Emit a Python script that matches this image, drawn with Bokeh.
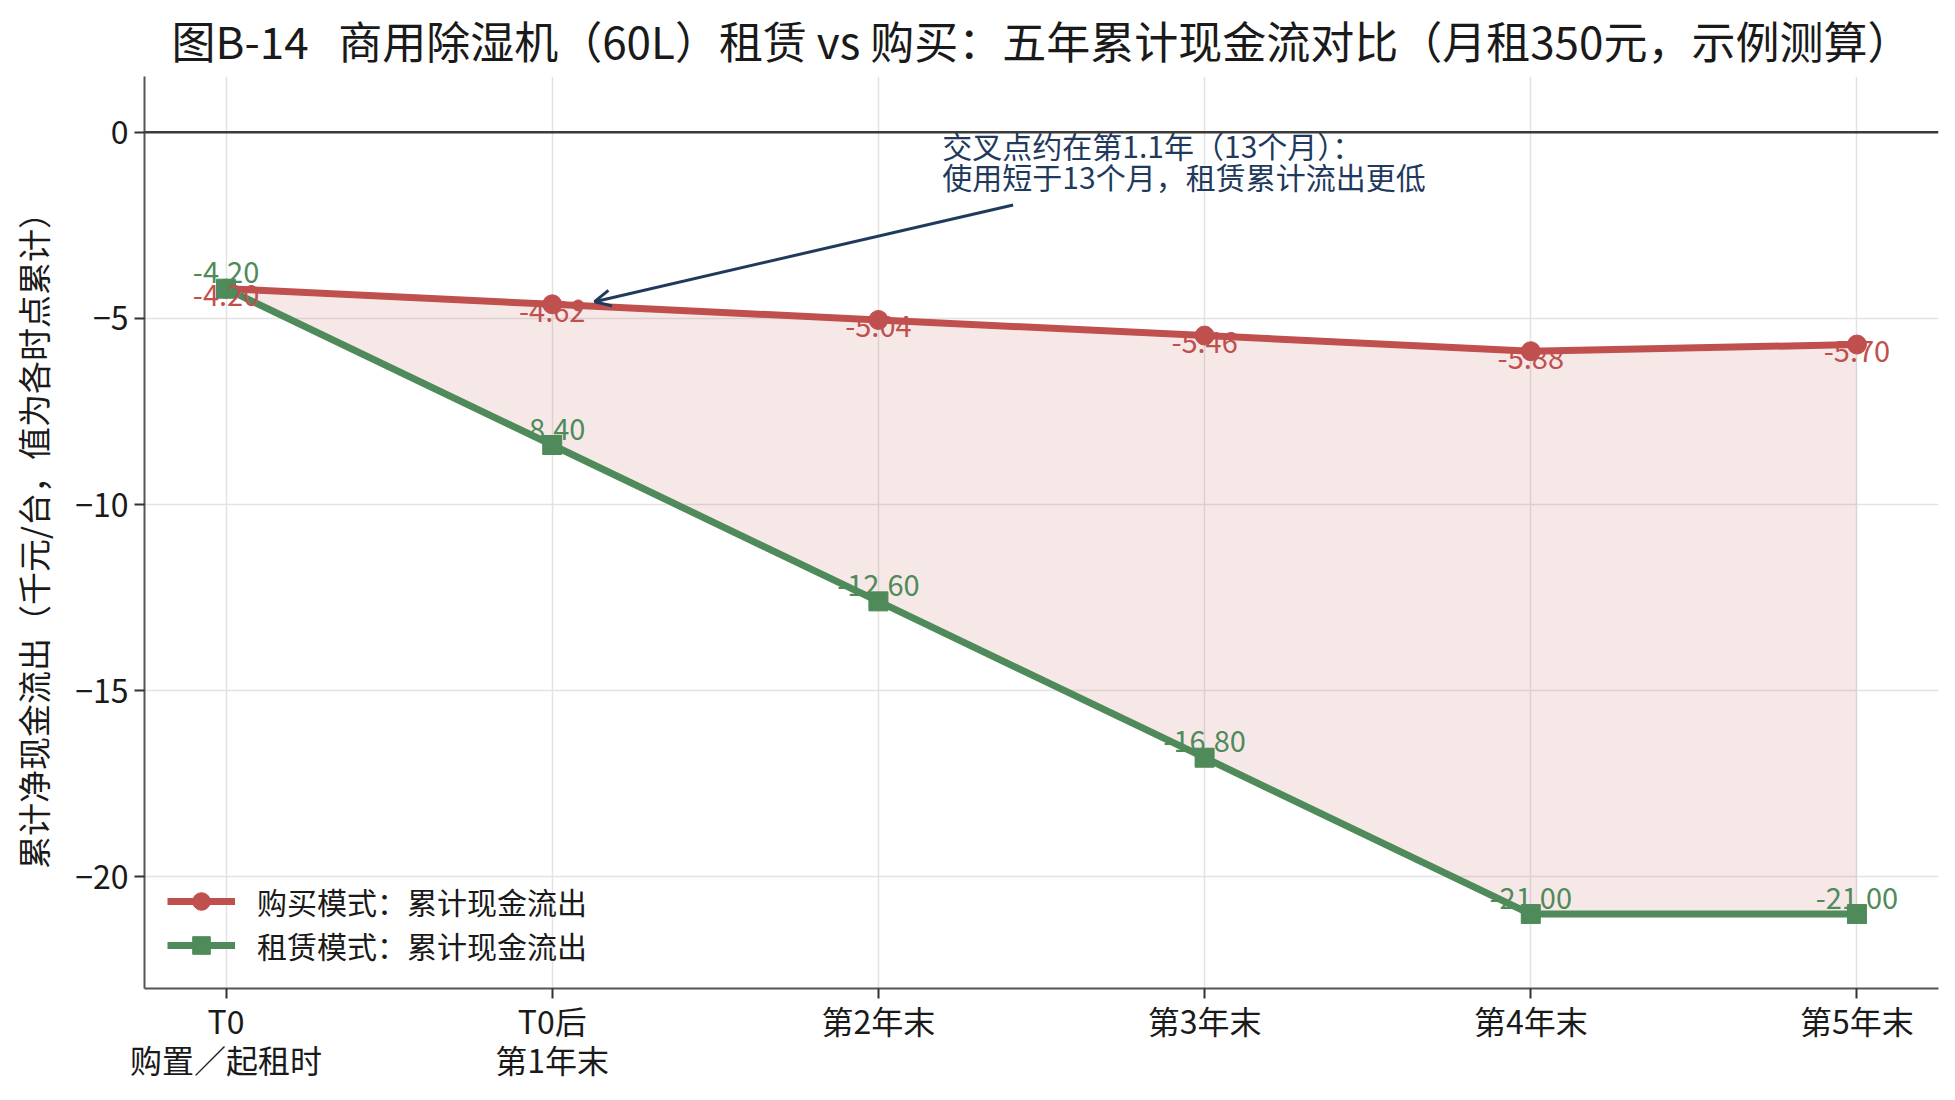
from bokeh.plotting import figure
from bokeh.models import ColumnDataSource, Span, Arrow, OpenHead, Label, Legend, LegendItem, FixedTicker
from bokeh.core.properties import value
from bokeh.embed import file_html
from bokeh.resources import INLINE

FONT = "Noto Sans CJK SC"

# data (千元/台, cumulative cash outflow)
stage_pos = [0, 1, 2, 3, 4, 5]
stage_labels = ["T0\n购置／起租时", "T0后\n第1年末", "第2年末", "第3年末", "第4年末", "第5年末"]
buy_cum = [-4.20, -4.62, -5.04, -5.46, -5.88, -5.70]
lease_cum = [-4.20, -8.40, -12.60, -16.80, -21.00, -21.00]
y_ticks = [-20, -15, -10, -5, 0]

# crossover note (about 13 months)
cross_x = [1.08]
cross_y = [-4.65]
note_lines = ["交叉点约在第1.1年（13个月）：", "使用短于13个月，租赁累计流出更低"]

RED = "#c0504d"
GREEN = "#4f8a5a"
NAVY = "#1f3a5c"

src = ColumnDataSource(data=dict(
    x=stage_pos,
    buy=buy_cum,
    lease=lease_cum,
    buy_txt=[f"{v:.2f}" for v in buy_cum],
    lease_txt=[f"{v:.2f}" for v in lease_cum],
))

p = figure(width=1946, height=1092, x_range=(-0.25, 5.25), y_range=(-23, 1.5),
           output_backend="svg", toolbar_location=None,
           min_border_left=144, min_border_right=8, min_border_top=72, min_border_bottom=104)
p.outline_line_color = None
p.background_fill_color = "white"

p.title.text = "图B-14\u00a0\u00a0\u00a0商用除湿机（60L）租赁 vs 购买：五年累计现金流对比（月租350元，示例测算）"
p.title.text_font = FONT
p.title.text_font_size = "44px"
p.title.text_font_style = "normal"
p.title.text_color = "#1a1a1a"
p.title.align = "center"
p.title.standoff = 10

# gap between the two paths
p.varea(x="x", y1="buy", y2="lease", source=src, fill_color=RED, fill_alpha=0.13)

p.add_layout(Span(location=0, dimension="width", line_color="#3a3a3a", line_width=2.5))

buy_line = p.line("x", "buy", source=src, line_color=RED, line_width=7)
buy_pts = p.scatter("x", "buy", source=src, marker="circle", size=19, color=RED)
lease_line = p.line("x", "lease", source=src, line_color=GREEN, line_width=7)
lease_pts = p.scatter("x", "lease", source=src, marker="square", size=19, color=GREEN)
p.scatter(cross_x, cross_y, marker="circle", size=11, color=RED)

p.text("x", "buy", text="buy_txt", source=src, text_font=value(FONT), text_font_size="29px",
       text_color=RED, text_align="center", text_baseline="middle", y_offset=7)
p.text("x", "lease", text="lease_txt", source=src, text_font=value(FONT), text_font_size="29px",
       text_color=GREEN, text_align="center", text_baseline="middle", y_offset=-16)

# note with arrow
p.add_layout(Arrow(end=OpenHead(size=16, line_color=NAVY, line_width=3),
                   x_start=2.413, y_start=-1.95, x_end=1.13, y_end=-4.55,
                   line_color=NAVY, line_width=3))
for i, line in enumerate(note_lines):
    p.add_layout(Label(x=2.196, y=-0.33 - 0.85 * i, text=line, text_font=FONT,
                       text_font_size="30px", text_color=NAVY, text_baseline="middle"))

# axes
p.xaxis.ticker = FixedTicker(ticks=stage_pos)
p.xaxis.major_label_overrides = {i: s for i, s in zip(stage_pos, stage_labels)}
p.yaxis.ticker = FixedTicker(ticks=y_ticks)
p.yaxis.axis_label = "累计净现金流出（千元/台，值为各时点累计）"
for ax in (p.xaxis, p.yaxis):
    ax.axis_line_color = "#555555"
    ax.axis_line_width = 2
    ax.major_tick_line_color = "#333333"
    ax.major_tick_line_width = 2
    ax.major_tick_out = 10
    ax.major_tick_in = 0
    ax.minor_tick_line_color = None
    ax.major_label_text_font = FONT
    ax.major_label_text_font_size = "32px"
    ax.major_label_text_color = "#1a1a1a"
    ax.major_label_text_line_height = 0.86
    ax.axis_label_text_font = FONT
    ax.axis_label_text_font_size = "33px"
    ax.axis_label_text_font_style = "normal"
    ax.axis_label_text_color = "#1a1a1a"
    ax.axis_label_standoff = 15
p.xaxis.major_label_standoff = -2
p.yaxis.major_label_standoff = 6

p.xgrid.grid_line_color = "#e3e3e3"
p.xgrid.grid_line_width = 1.5
p.ygrid.grid_line_color = "#e3e3e3"
p.ygrid.grid_line_width = 1.5

legend = Legend(items=[
    LegendItem(label="购买模式：累计现金流出", renderers=[buy_line, buy_pts]),
    LegendItem(label="租赁模式：累计现金流出", renderers=[lease_line, lease_pts]),
], location=(23, 21))
legend.label_text_font = FONT
legend.label_text_font_size = "30px"
legend.label_text_color = "#1a1a1a"
legend.glyph_width = 68
legend.glyph_height = 44
legend.label_height = 30
legend.spacing = 0
legend.padding = 0
legend.margin = 0
legend.label_standoff = 22
legend.border_line_alpha = 0
legend.background_fill_alpha = 0
p.add_layout(legend)

open("out.html", "w").write(file_html(p, INLINE))
